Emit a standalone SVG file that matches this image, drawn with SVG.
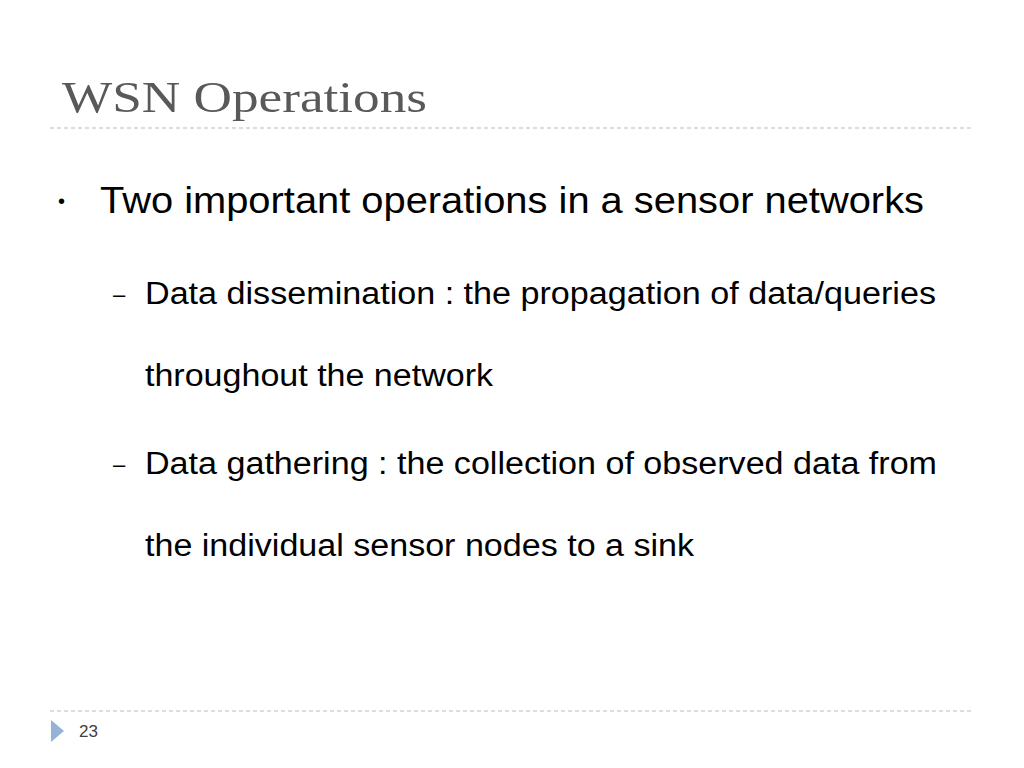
<svg xmlns="http://www.w3.org/2000/svg" width="1024" height="768" viewBox="0 0 1024 768">
<style>
.b{font-family:"Liberation Sans",Arial,sans-serif;fill:#000}
.rule{stroke:#bbb;stroke-width:1;stroke-dasharray:4,3}
</style>
<rect width="1024" height="768" fill="#fff"/>
<text x="62" y="112" font-family="Liberation Serif,serif" font-size="45" fill="#595959" textLength="365" lengthAdjust="spacingAndGlyphs">WSN Operations</text>
<line class="rule" x1="50" y1="128" x2="972" y2="128"/>
<text class="b" x="58" y="208" font-size="20">•</text>
<text class="b" x="100" y="213" font-size="37" textLength="824" lengthAdjust="spacingAndGlyphs">Two important operations in a sensor networks</text>
<text class="b" x="113" y="302" font-size="22">–</text>
<text class="b" x="145" y="304" font-size="31" textLength="791" lengthAdjust="spacingAndGlyphs">Data dissemination : the propagation of data/queries</text>
<text class="b" x="145" y="386" font-size="31" textLength="348" lengthAdjust="spacingAndGlyphs">throughout the network</text>
<text class="b" x="113" y="472" font-size="22">–</text>
<text class="b" x="145" y="474" font-size="31" textLength="792" lengthAdjust="spacingAndGlyphs">Data gathering : the collection of observed data from</text>
<text class="b" x="145" y="556" font-size="31" textLength="549" lengthAdjust="spacingAndGlyphs">the individual sensor nodes to a sink</text>
<line class="rule" x1="50" y1="711" x2="972" y2="711"/>
<polygon points="51,720 64,731 51,742" fill="#95b3d7"/>
<text x="79" y="737" font-family="Liberation Sans,sans-serif" font-size="17" fill="#404040">23</text>
</svg>
